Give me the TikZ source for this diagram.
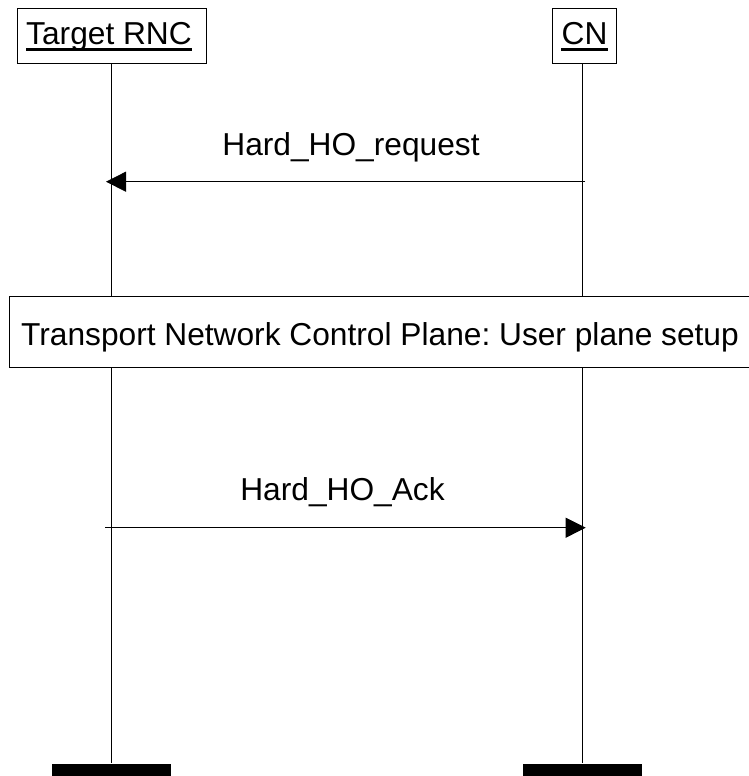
\documentclass[tikz,border=0pt]{standalone}
\usepackage{fontspec}
\setmainfont{Liberation Sans}
\usetikzlibrary{arrows.meta}
\frenchspacing

\tikzset{
  lbl/.style={font=\fontsize{31.7}{36}\selectfont, inner sep=0pt, anchor=base},
  hdrbox/.style={draw, line width=0.8pt, minimum height=55pt, inner sep=0pt},
  life/.style={line width=0.8pt},
  msg/.style={line width=0.8pt, -{Triangle[length=20pt,width=20pt]}},
  endbar/.style={fill=black, draw=none, minimum width=118.7pt, minimum height=12.7pt, inner sep=0pt, anchor=north},
  ulineit/.style={line width=3pt},
}

\begin{document}
\begin{tikzpicture}[x=1pt,y=-1pt]
  \useasboundingbox (0,0) rectangle (749,776);

  % participant headers
  \node[hdrbox, minimum width=189.4pt] (rncbox) at (112,35.8) {};
  \node[hdrbox, minimum width=64.4pt]  (cnbox)  at (584.5,35.8) {};
  \node[lbl] (rnc) at (109,45) {Target RNC};
  \node[lbl] (cn)  at (584.5,45) {CN};
  \draw[ulineit] ([yshift=-4.5pt]rnc.base west) -- ([yshift=-4.5pt]rnc.base east);
  \draw[ulineit] ([yshift=-4.5pt]cn.base west) -- ([yshift=-4.5pt]cn.base east);

  % bottom end bars
  \node[endbar] (rncbar) at (111.7,763.3) {};
  \node[endbar] (cnbar)  at (582.7,763.3) {};

  % lifelines
  \coordinate (rnctop) at (111.7,63.3);
  \coordinate (cntop)  at (582.7,63.3);
  \draw[life] (rnctop) -- (rncbar.north);
  \draw[life] (cntop) -- (cnbar.north);

  % messages
  \coordinate (m1from) at (585,181.7);
  \coordinate (m1to)   at (106,181.7);
  \draw[msg] (m1from) -- (m1to);
  \node[lbl] (m1) at (351,155) {Hard\_HO\_request};

  \coordinate (m2from) at (105,527.7);
  \coordinate (m2to)   at (585.7,527.7);
  \draw[msg] (m2from) -- (m2to);
  \node[lbl] (m2) at (342.5,500) {Hard\_HO\_Ack};

  % shared procedure box across both lifelines
  \draw[line width=0.8pt, fill=white] (9,296.7) rectangle (753,367.7);
  \node[lbl] (tnc) at (380,345.4) {Transport Network Control Plane: User plane setup};
\end{tikzpicture}
\end{document}
